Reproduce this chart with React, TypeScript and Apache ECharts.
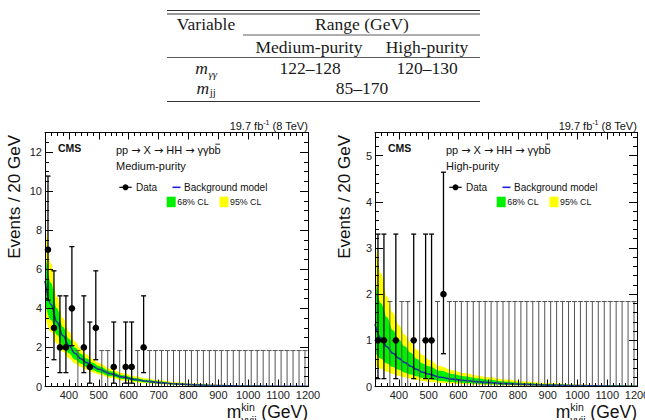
import React, { useEffect, useRef } from 'react';
import * as echarts from 'echarts';

// ---- Background model, tabulated at these masses (GeV) ----
const modelMass = [320, 340, 360, 380, 400, 420, 440, 460, 480, 500, 540, 580, 620, 660, 700, 760, 820, 900, 1000, 1100, 1200];

// Medium-purity category (events / 20 GeV)
const mediumModel = [5.4, 4.2, 3.3, 2.6, 2.1, 1.7, 1.42, 1.22, 1.03, 0.88, 0.65, 0.48, 0.36, 0.27, 0.2, 0.13, 0.085, 0.05, 0.025, 0.012, 0.006];
const medium68High = [7.0, 5.3, 4.0, 3.05, 2.45, 2.0, 1.68, 1.43, 1.21, 1.04, 0.78, 0.58, 0.44, 0.34, 0.26, 0.17, 0.115, 0.07, 0.036, 0.018, 0.009];
const medium68Low = [4.3, 3.4, 2.65, 2.1, 1.7, 1.38, 1.17, 1.0, 0.85, 0.72, 0.52, 0.38, 0.28, 0.2, 0.15, 0.095, 0.06, 0.034, 0.016, 0.008, 0.004];
const medium95High = [8.6, 6.3, 4.6, 3.5, 2.8, 2.3, 1.93, 1.64, 1.39, 1.2, 0.9, 0.69, 0.53, 0.41, 0.32, 0.22, 0.15, 0.09, 0.048, 0.025, 0.013];
const medium95Low = [3.6, 2.8, 2.2, 1.78, 1.45, 1.18, 1.0, 0.86, 0.72, 0.61, 0.44, 0.31, 0.22, 0.16, 0.11, 0.07, 0.043, 0.024, 0.011, 0.005, 0.002];

// High-purity category (events / 20 GeV)
const highModel = [1.35, 1.05, 0.86, 0.72, 0.61, 0.52, 0.44, 0.37, 0.31, 0.27, 0.2, 0.16, 0.13, 0.105, 0.085, 0.062, 0.045, 0.03, 0.018, 0.011, 0.007];
const high68High = [2.35, 1.8, 1.5, 1.22, 1.02, 0.87, 0.73, 0.6, 0.5, 0.44, 0.34, 0.27, 0.22, 0.18, 0.145, 0.105, 0.077, 0.052, 0.031, 0.019, 0.012];
const high68Low = [0.75, 0.6, 0.5, 0.42, 0.36, 0.3, 0.26, 0.22, 0.18, 0.16, 0.12, 0.095, 0.075, 0.06, 0.05, 0.036, 0.026, 0.017, 0.01, 0.006, 0.004];
const high95High = [3.2, 2.45, 1.95, 1.6, 1.33, 1.12, 0.95, 0.8, 0.68, 0.58, 0.44, 0.35, 0.29, 0.24, 0.2, 0.15, 0.11, 0.075, 0.045, 0.028, 0.018];
const high95Low = [0.47, 0.38, 0.32, 0.27, 0.23, 0.2, 0.17, 0.14, 0.12, 0.105, 0.08, 0.062, 0.05, 0.04, 0.033, 0.024, 0.017, 0.011, 0.007, 0.004, 0.003];

// ---- Observed events in 20 GeV bins from 320 to 1200 GeV ----
const mediumCounts = [7, 3, 2, 2, 4, 0, 2, 1, 3, 0, 0, 1, 0, 1, 1, 0, 2, 0, 0, 0, 0, 0, 0, 0, 0, 0, 0, 0, 0, 0, 0, 0, 0, 0, 0, 0, 0, 0, 0, 0, 0, 0, 0, 0];
const highCounts = [1, 1, 0, 1, 0, 0, 1, 0, 1, 1, 0, 2, 0, 0, 0, 0, 0, 0, 0, 0, 0, 0, 0, 0, 0, 0, 0, 0, 0, 0, 0, 0, 0, 0, 0, 0, 0, 0, 0, 0, 0, 0, 0, 0];

// 68% Poisson intervals, indexed by the observed count
const poissonLow = [0, 0.17, 0.71, 1.37, 2.09, 2.84, 3.62, 4.42];
const poissonHigh = [1.84, 3.3, 4.64, 5.92, 7.16, 8.38, 9.58, 10.77];

const massMin = 320;
const massMax = 1200;
const binWidth = 20;

// ---- Tick labels ----
const xTickLabels = [400, 500, 600, 700, 800, 900, 1000, 1100, 1200];
const mediumYTicks = [0, 2, 4, 6, 8, 10, 12];
const highYTicks = [0, 1, 2, 3, 4, 5];

// ---- Selection table ----
const tableHeader = ['Variable', 'Range (GeV)'];
const tableCategories = ['Medium-purity', 'High-purity'];
const diphotonWindows = ['122\u2013128', '120\u2013130'];
const dijetWindow = '85\u2013170';

const SANS = '"Liberation Sans", Arial, Helvetica, sans-serif';
const SERIF = '"Liberation Serif", "Times New Roman", serif';
const ARROW_FONT = '"DejaVu Sans", sans-serif';
const YELLOW = '#ffff00';
const GREEN = '#00f000';
const MODEL_BLUE = '#103c96';

let measureCtx: CanvasRenderingContext2D | null = null;
function textWidth(text: string, size: number, family = SANS, weight = 'normal', style = 'normal') {
  if (!measureCtx) measureCtx = document.createElement('canvas').getContext('2d');
  measureCtx!.font = `${style} ${weight} ${size}px ${family}`;
  return measureCtx!.measureText(text).width;
}

function steps(min: number, max: number, step: number) {
  const out: number[] = [];
  const n = Math.floor((max - min) / step + 1e-9);
  for (let i = 0; i <= n; i++) out.push(+(min + i * step).toFixed(4));
  return out;
}

function txt(x: number, y: number, text: string, size: number, o: any = {}) {
  return {
    type: 'text',
    x,
    y,
    z: 20,
    silent: true,
    rotation: o.rotation || 0,
    style: {
      text,
      fontSize: size,
      fontFamily: o.family || SANS,
      fontWeight: o.weight || 'normal',
      fontStyle: o.style || 'normal',
      fill: o.color || '#111',
      align: o.align || 'left',
      verticalAlign: o.valign || 'middle',
      rich: o.rich,
    },
  };
}

function seg(x1: number, y1: number, x2: number, y2: number, color = '#000', width = 1) {
  return { type: 'line', z: 20, silent: true, shape: { x1, y1, x2, y2 }, style: { stroke: color, lineWidth: width } };
}

const gridTop = 132.5;
const gridHeight = 254;

const panels = [
  {
    left: 45, width: 263, yMax: 13, yTicks: mediumYTicks, yMinor: 0.5, dx: 0,
    counts: mediumCounts, model: mediumModel,
    lo68: medium68Low, hi68: medium68High, lo95: medium95Low, hi95: medium95High,
    category: tableCategories[0],
  },
  {
    left: 375, width: 262, yMax: 5.5, yTicks: highYTicks, yMinor: 0.2, dx: 330,
    counts: highCounts, model: highModel,
    lo68: high68Low, hi68: high68High, lo95: high95Low, hi95: high95High,
    category: tableCategories[1],
  },
];

function pairs(ys: number[]) {
  return modelMass.map((m, i) => [m, ys[i]]);
}

function buildOption() {
  const grid: any[] = [];
  const xAxis: any[] = [];
  const yAxis: any[] = [];
  const series: any[] = [];
  const graphic: any[] = [];

  const xMinor = steps(massMin, massMax, binWidth);
  const plain = (v: number) => String(v);

  panels.forEach((p, pi) => {
    grid.push({ left: p.left, top: gridTop, width: p.width, height: gridHeight, containLabel: false, outerBoundsMode: 'none' });

    const xBase = { type: 'value', gridIndex: pi, min: massMin, max: massMax, z: 5, splitLine: { show: false } };
    const tickStyle = { color: '#000', width: 1 };
    for (const pos of ['bottom', 'top']) {
      xAxis.push({
        ...xBase,
        position: pos,
        axisLine: { show: true, onZero: false, lineStyle: { color: '#000', width: 1 } },
        axisTick: { show: true, inside: true, length: 7, customValues: xTickLabels, lineStyle: tickStyle },
        axisLabel: pos === 'bottom'
          ? { show: true, customValues: xTickLabels, formatter: plain, margin: 3, fontSize: 11, fontFamily: SANS, color: '#222' }
          : { show: false },
      });
      xAxis.push({
        ...xBase,
        position: pos,
        axisLine: { show: false, onZero: false },
        axisTick: { show: true, inside: true, length: 3.5, customValues: xMinor, lineStyle: tickStyle },
        axisLabel: { show: false },
      });
    }

    const yBase = { type: 'value', gridIndex: pi, min: 0, max: p.yMax, z: 5, splitLine: { show: false } };
    const yMinorTicks = steps(0, p.yMax, p.yMinor);
    for (const pos of ['left', 'right']) {
      yAxis.push({
        ...yBase,
        position: pos,
        axisLine: { show: true, onZero: false, lineStyle: { color: '#000', width: 1 } },
        axisTick: { show: true, inside: true, length: 8, customValues: p.yTicks, lineStyle: tickStyle },
        axisLabel: pos === 'left'
          ? { show: true, customValues: p.yTicks, formatter: plain, margin: 3, fontSize: 11, fontFamily: SANS, color: '#222' }
          : { show: false },
      });
      yAxis.push({
        ...yBase,
        position: pos,
        axisLine: { show: false, onZero: false },
        axisTick: { show: true, inside: true, length: 4, customValues: yMinorTicks, lineStyle: tickStyle },
        axisLabel: { show: false },
      });
    }

    const xi = pi * 4;
    const yi = pi * 4;
    // Uncertainty bands are painted as layered fills down to zero:
    // 95% upper (yellow), 68% upper (green), 68% lower (yellow), 95% lower (white).
    const layers: [number[], string][] = [
      [p.hi95, YELLOW],
      [p.hi68, GREEN],
      [p.lo68, YELLOW],
      [p.lo95, '#ffffff'],
    ];
    layers.forEach(([ys, color]) => {
      series.push({
        type: 'line', xAxisIndex: xi, yAxisIndex: yi, symbol: 'none', showSymbol: false,
        smooth: 0.4, smoothMonotone: 'x', silent: true, z: 2,
        lineStyle: { width: 0, opacity: 0 },
        areaStyle: { color, opacity: 1, origin: 'start' },
        data: pairs(ys),
      });
    });
    // fitted background
    series.push({
      type: 'line', xAxisIndex: xi, yAxisIndex: yi, symbol: 'none', showSymbol: false,
      smooth: 0.4, smoothMonotone: 'x', silent: true, z: 3,
      lineStyle: { color: MODEL_BLUE, width: 1.6 },
      data: pairs(p.model),
    });
    // observed data with Poisson error bars
    series.push({
      type: 'custom', xAxisIndex: xi, yAxisIndex: yi, z: 4, silent: true,
      encode: { x: 0, y: [1, 2, 3] },
      data: p.counts.map((n, i) => [massMin + binWidth * (i + 0.5), n, poissonLow[n], poissonHigh[n]]),
      renderItem: (_params: any, api: any) => {
        const x = api.value(0);
        const n = api.value(1);
        const top = api.coord([x, api.value(3)]);
        const bot = api.coord([x, api.value(2)]);
        const mid = api.coord([x, n]);
        const color = n > 0 ? '#000' : '#555';
        const lw = n > 0 ? 1.3 : 1;
        const cap = 2.5;
        const children: any[] = [
          { type: 'line', shape: { x1: top[0], y1: top[1], x2: bot[0], y2: bot[1] }, style: { stroke: color, lineWidth: lw } },
          { type: 'line', shape: { x1: top[0] - cap, y1: top[1], x2: top[0] + cap, y2: top[1] }, style: { stroke: color, lineWidth: lw } },
        ];
        if (n > 0) {
          children.push({ type: 'line', shape: { x1: bot[0] - cap, y1: bot[1], x2: bot[0] + cap, y2: bot[1] }, style: { stroke: color, lineWidth: lw } });
          children.push({ type: 'circle', shape: { cx: mid[0], cy: mid[1], r: 3.3 }, style: { fill: '#000' } });
        }
        return { type: 'group', children };
      },
    });

    // ---- panel annotations ----
    const R = p.left + p.width;
    const dx = p.dx;
    const lumiMain = '19.7 fb';
    const lumiSup = '-1';
    const lumiTail = ' (8 TeV)';
    const wTail = textWidth(lumiTail, 11);
    const wSup = textWidth(lumiSup, 7);
    const wMain = textWidth(lumiMain, 11);
    graphic.push(txt(R - wTail, 125.5, lumiTail, 11));
    graphic.push(txt(R - wTail - wSup, 122, lumiSup, 7));
    graphic.push(txt(R - wTail - wSup - wMain, 125.5, lumiMain, 11));

    graphic.push(txt(58 + dx, 147.7, 'CMS', 10.5, { weight: 'bold' }));

    // process label; the arrows come from a font with full-size arrow glyphs
    const pieces = ['pp ', ' X ', ' HH ', ' \u03b3\u03b3b'];
    const arrow = '\u2192';
    const wArrow = textWidth(arrow, 11, ARROW_FONT);
    const wProc = pieces.reduce((s, t) => s + textWidth(t, 11), 0) + 3 * wArrow;
    const wB = textWidth('b', 11);
    const procText = `${pieces[0]}{a|${arrow}}${pieces[1]}{a|${arrow}}${pieces[2]}{a|${arrow}}${pieces[3]}b`;
    graphic.push(txt(116 + dx, 150, procText, 11, {
      rich: { a: { fontFamily: ARROW_FONT, fontSize: 11, fill: '#111' } },
    }));
    graphic.push(seg(116 + dx + wProc + 0.8, 144.2, 116 + dx + wProc + wB - 0.8, 144.2, '#111', 0.9));
    graphic.push(txt(116 + dx, 166, p.category, 11));

    // legend
    graphic.push(seg(119.3 + dx, 187.3, 131.7 + dx, 187.3, '#000', 1.2));
    graphic.push({ type: 'circle', z: 20, silent: true, shape: { cx: 125.5 + dx, cy: 187.3, r: 3 }, style: { fill: '#000' } });
    graphic.push(txt(136 + dx, 187.3, 'Data', 10));
    graphic.push(seg(172.5 + dx, 187.3, 180.5 + dx, 187.3, '#2222dd', 1.6));
    graphic.push(txt(184 + dx, 187.3, 'Background model', 10));
    graphic.push({ type: 'rect', z: 20, silent: true, shape: { x: 166.7 + dx, y: 196.7, width: 9, height: 10.5 }, style: { fill: GREEN } });
    graphic.push(txt(177.3 + dx, 202, '68% CL', 8.8));
    graphic.push({ type: 'rect', z: 20, silent: true, shape: { x: 219.5 + dx, y: 196.7, width: 9, height: 10.5 }, style: { fill: YELLOW } });
    graphic.push(txt(230 + dx, 202, '95% CL', 8.8));

    // axis titles
    graphic.push(txt(14 + dx, 135, 'Events / 20 GeV', 17, { align: 'right', rotation: Math.PI / 2 }));
    const unit = '(GeV)';
    const wUnit = textWidth(unit, 17.5);
    const wSpace = textWidth(' ', 17.5);
    const wScript = Math.max(textWidth('\u03b3\u03b3jj', 10.5), textWidth('kin', 10.5));
    const wM = textWidth('m', 17.5);
    const scriptX = R - wUnit - wSpace - wScript;
    graphic.push(txt(R - wUnit, 412, unit, 17.5));
    graphic.push(txt(scriptX - wM, 412, 'm', 17.5));
    graphic.push(txt(scriptX, 407, 'kin', 10.5));
    graphic.push(txt(scriptX, 419.5, '\u03b3\u03b3jj', 10.5));
  });

  // ---- selection table ----
  const tL = 167;
  const tR = 480;
  const rule = '#333';
  graphic.push(seg(tL, 10.5, tR, 10.5, rule, 1));
  graphic.push(seg(tL, 14, tR, 14, rule, 1));
  graphic.push(seg(243, 35, tR, 35, rule, 0.8));
  graphic.push(seg(tL, 57.5, tR, 57.5, rule, 0.8));
  graphic.push(seg(tL, 101.5, tR, 101.5, rule, 1));
  const tf = { family: SERIF, align: 'center', color: '#1a1a1a' };
  graphic.push(txt(206, 24, tableHeader[0], 17.5, tf));
  graphic.push(txt(362, 24, tableHeader[1], 17.5, tf));
  graphic.push(txt(309, 46.5, tableCategories[0], 17.5, tf));
  graphic.push(txt(427, 46.5, tableCategories[1], 17.5, tf));
  graphic.push(txt(310, 68, diphotonWindows[0], 17.5, tf));
  graphic.push(txt(427, 68, diphotonWindows[1], 17.5, tf));
  graphic.push(txt(362, 88, dijetWindow, 17.5, tf));

  const mItalic = textWidth('m', 17.5, SERIF, 'normal', 'italic');
  const wGG = textWidth('\u03b3\u03b3', 11, SERIF, 'normal', 'italic');
  const wJJ = textWidth('jj', 11, SERIF);
  const gx = 206 - (mItalic + wGG) / 2;
  graphic.push(txt(gx, 68, 'm', 17.5, { family: SERIF, style: 'italic', color: '#1a1a1a' }));
  graphic.push(txt(gx + mItalic + 0.5, 73.5, '\u03b3\u03b3', 11, { family: SERIF, style: 'italic', color: '#1a1a1a' }));
  const jx = 206 - (mItalic + wJJ) / 2;
  graphic.push(txt(jx, 88, 'm', 17.5, { family: SERIF, style: 'italic', color: '#1a1a1a' }));
  graphic.push(txt(jx + mItalic + 0.5, 92, 'jj', 11, { family: SERIF, color: '#1a1a1a' }));

  return {
    animation: false,
    backgroundColor: '#ffffff',
    grid,
    xAxis,
    yAxis,
    series,
    graphic,
  };
}

export default function App() {
  const ref = useRef<HTMLDivElement>(null);
  useEffect(() => {
    if (!ref.current) return;
    const chart = echarts.init(ref.current, null, { renderer: 'svg' });
    chart.setOption(buildOption() as any);
    return () => chart.dispose();
  }, []);
  return (
    <div
      ref={ref}
      style={{ position: 'fixed', left: 0, top: 0, width: 645, height: 420, background: '#fff' }}
    />
  );
}
